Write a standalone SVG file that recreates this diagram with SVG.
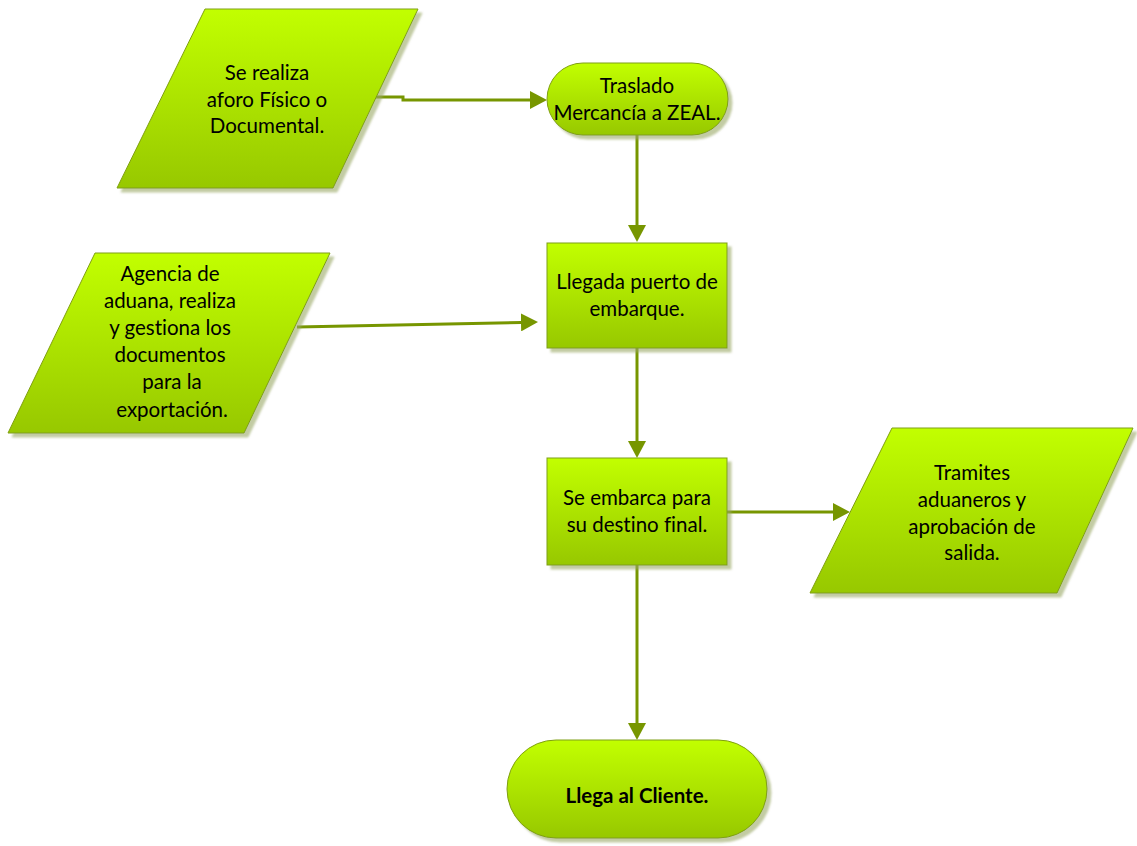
<svg xmlns="http://www.w3.org/2000/svg" width="1137" height="846" viewBox="0 0 1137 846">
  <defs>
    <linearGradient id="lime" x1="0" y1="0" x2="0" y2="1">
      <stop offset="0" stop-color="#c2ff00"/>
      <stop offset="1" stop-color="#97c800"/>
    </linearGradient>
    <filter id="shadow" x="-10%" y="-10%" width="125%" height="125%">
      <feDropShadow dx="4" dy="4" stdDeviation="0.8" flood-color="#9aa865" flood-opacity="0.6"/>
    </filter>
    <marker id="arrow" viewBox="0 0 17 18" refX="0" refY="9" markerWidth="17" markerHeight="18" markerUnits="userSpaceOnUse" orient="auto">
      <path d="M0,0 L17,9 L0,18 Z" fill="#779600"/>
    </marker>
  </defs>
  <style>
    .shape { fill: url(#lime); stroke: #7f9f10; stroke-width: 1; filter: url(#shadow); }
    .label { font-family: Lato, "Open Sans", "Liberation Sans", sans-serif; font-size: 20.5px; fill: #000; text-anchor: middle; font-variant-ligatures: none; }
    .bold { font-weight: bold; }
    .conn { fill: none; stroke: #779600; stroke-width: 3; marker-end: url(#arrow); }
  </style>
  <rect width="1137" height="846" fill="#ffffff"/>

  <!-- connectors -->
  <g id="connectors">
    <path class="conn" d="M376,97 L403,97 L403,100 L530,100"/>
    <path class="conn" d="M637,135 L637,225"/>
    <path class="conn" d="M297,327 L521,322.4"/>
    <path class="conn" d="M637,348 L637,441"/>
    <path class="conn" d="M727,512 L833,512"/>
    <path class="conn" d="M637,565 L637,723"/>
  </g>

  <!-- Se realiza aforo -->
  <g id="n-aforo">
    <polygon class="shape" points="205,9 418,9 333,188 117,188"/>
    <text class="label" x="267" y="80">Se realiza</text>
    <text class="label" x="267" y="107">aforo Físico o</text>
    <text class="label" x="267" y="133">Documental.</text>
  </g>

  <!-- Traslado -->
  <g id="n-traslado">
    <rect class="shape" x="547" y="63" width="181" height="72" rx="36" ry="36"/>
    <text class="label" x="637" y="93">Traslado</text>
    <text class="label" x="637" y="120">Mercancía a ZEAL.</text>
  </g>

  <!-- Agencia de aduana -->
  <g id="n-agencia">
    <polygon class="shape" points="95,253 330,253 244,433 8,433"/>
    <text class="label" x="170" y="281">Agencia de</text>
    <text class="label" x="170" y="308">aduana, realiza</text>
    <text class="label" x="170" y="335">y gestiona los</text>
    <text class="label" x="170" y="362">documentos</text>
    <text class="label" x="172" y="389">para la</text>
    <text class="label" x="172" y="417">exportación.</text>
  </g>

  <!-- Llegada puerto -->
  <g id="n-llegada">
    <rect class="shape" x="547" y="243" width="180" height="105"/>
    <text class="label" x="637" y="289">Llegada puerto de</text>
    <text class="label" x="637" y="316">embarque.</text>
  </g>

  <!-- Se embarca -->
  <g id="n-embarca">
    <rect class="shape" x="547" y="458" width="180" height="107"/>
    <text class="label" x="637" y="505">Se embarca para</text>
    <text class="label" x="637" y="532">su destino final.</text>
  </g>

  <!-- Tramites aduaneros -->
  <g id="n-tramites">
    <polygon class="shape" points="892,428 1133,428 1057,593 810,593"/>
    <text class="label" x="972" y="480">Tramites</text>
    <text class="label" x="972" y="507">aduaneros y</text>
    <text class="label" x="972" y="534">aprobación de</text>
    <text class="label" x="972" y="560">salida.</text>
  </g>

  <!-- Llega al Cliente -->
  <g id="n-cliente">
    <rect class="shape" x="507" y="740" width="260" height="98" rx="49" ry="49"/>
    <text class="label bold" x="637" y="803">Llega al Cliente.</text>
  </g>
</svg>
